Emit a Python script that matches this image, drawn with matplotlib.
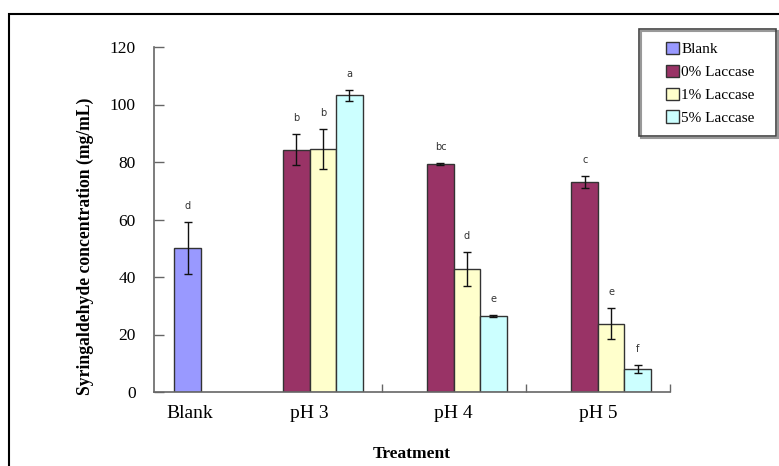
import matplotlib
matplotlib.use("Agg")
import matplotlib.pyplot as plt
from matplotlib.patches import Rectangle, Patch
import numpy as np

# ---- data ----
categories = ["Blank", "pH 3", "pH 4", "pH 5"]
series = ["Blank", "0% Laccase", "1% Laccase", "5% Laccase"]
blank_value = [50.2]
blank_err = [9.0]
blank_letter = ["d"]
lac0 = [84.3, 79.4, 73.1]
lac0_err = [5.3, 0.4, 2.0]
lac1 = [84.6, 42.8, 23.8]
lac1_err = [7.0, 5.8, 5.5]
lac5 = [103.2, 26.4, 8.0]
lac5_err = [1.9, 0.4, 1.5]
lac0_letters = ["b", "bc", "c"]
lac1_letters = ["b", "d", "e"]
lac5_letters = ["a", "e", "f"]
yticks = [0, 20, 40, 60, 80, 100, 120]

colors = ["#9999FF", "#993366", "#FFFFCC", "#CCFFFF"]
edge = "#333333"

W, H = 779, 466
fig = plt.figure(figsize=(W / 100, H / 100), dpi=100)
serif = "Liberation Serif"

# axes placement (pixels)
L, R, T, B = 154, 670, 47, 392
ax = fig.add_axes([L / W, 1 - B / H, (R - L) / W, (B - T) / H])

centers = np.array([0.25, 1.081, 2.081, 3.083])
w = 0.184
xmax = 3.583

# blank bar
bx = [centers[0] - 0.017]
ax.bar(bx, blank_value, width=w, color=colors[0], edgecolor=edge, linewidth=1.0, zorder=2)
ax.errorbar(bx, blank_value, yerr=blank_err, fmt="none", ecolor="#111111",
            elinewidth=1.0, capsize=3, capthick=1.0, zorder=3)

ph_centers = centers[1:]
groups = [(lac0, lac0_err, lac0_letters, colors[1], -0.5),
          (lac1, lac1_err, lac1_letters, colors[2], 0.5),
          (lac5, lac5_err, lac5_letters, colors[3], 1.5)]
for vals, errs, lets, col, off in groups:
    xs = ph_centers + off * w
    ax.bar(xs, vals, width=w, color=col, edgecolor=edge, linewidth=1.0, zorder=2)
    ax.errorbar(xs, vals, yerr=errs, fmt="none", ecolor="#111111",
                elinewidth=1.0, capsize=3, capthick=1.0, zorder=3)
    for x, v, e, t in zip(xs, vals, errs, lets):
        ax.annotate(t, (x, v + e), xytext=(0, 11.5), textcoords="offset points",
                    ha="center", va="center", fontsize=7, color="#333333",
                    family="DejaVu Sans")

for x, v, e, t in zip(bx, blank_value, blank_err, blank_letter):
    ax.annotate(t, (x, v + e), xytext=(0, 11.5), textcoords="offset points",
                ha="center", va="center", fontsize=7, color="#333333", family="DejaVu Sans")

ax.set_xlim(0, xmax)
ax.set_ylim(0, 120)
for s in ["top", "right"]:
    ax.spines[s].set_visible(False)
for s in ["left", "bottom"]:
    ax.spines[s].set_color("#666666")
    ax.spines[s].set_linewidth(1.2)

ax.set_yticks(yticks)
ax.set_yticklabels([str(v) for v in yticks], family=serif, fontsize=12.5)
ax.tick_params(axis="y", direction="in", length=7, width=1, color="#666666", pad=13)

ax.set_xticks(centers)
ax.set_xticklabels(categories, family=serif, fontsize=14)
ax.tick_params(axis="x", which="major", length=0, pad=9)
ax.set_xticks([1.581, 2.581, xmax], minor=True)
ax.tick_params(axis="x", which="minor", direction="in", length=6, width=1, color="#666666")

ax.set_xlabel("Treatment", family=serif, fontsize=12.5, fontweight="bold", labelpad=18)
ax.set_ylabel("Syringaldehyde concentration (mg/mL)", family=serif, fontsize=12.7, fontweight="bold")
ax.yaxis.set_label_coords(-0.117, 0.423)

# legend
handles = [Patch(facecolor=c, edgecolor=edge, linewidth=1.0) for c in colors]
leg = fig.legend(handles, series, loc="upper left", bbox_to_anchor=(666 / W, 1 - 42 / H),
                 frameon=False, prop={"family": serif, "size": 11},
                 handlelength=0.85, handleheight=0.85, handletextpad=0.15,
                 labelspacing=0.55, borderaxespad=0, borderpad=0)
# legend frame with shadow
fig.add_artist(Rectangle((641 / W, 1 - 138 / H), 137 / W, 107 / H, transform=fig.transFigure,
                         facecolor="none", edgecolor="#999999", linewidth=1.5))
fig.add_artist(Rectangle((639 / W, 1 - 136 / H), 137 / W, 107 / H, transform=fig.transFigure,
                         facecolor="none", edgecolor="#444444", linewidth=1.2))

# outer frame (left and top edges visible)
fig.add_artist(Rectangle((8.5 / W, -0.1), 1.2, 1.1 - 14 / H, transform=fig.transFigure,
                         facecolor="none", edgecolor="black", linewidth=1.5))

fig.savefig("out.png", dpi=100)
